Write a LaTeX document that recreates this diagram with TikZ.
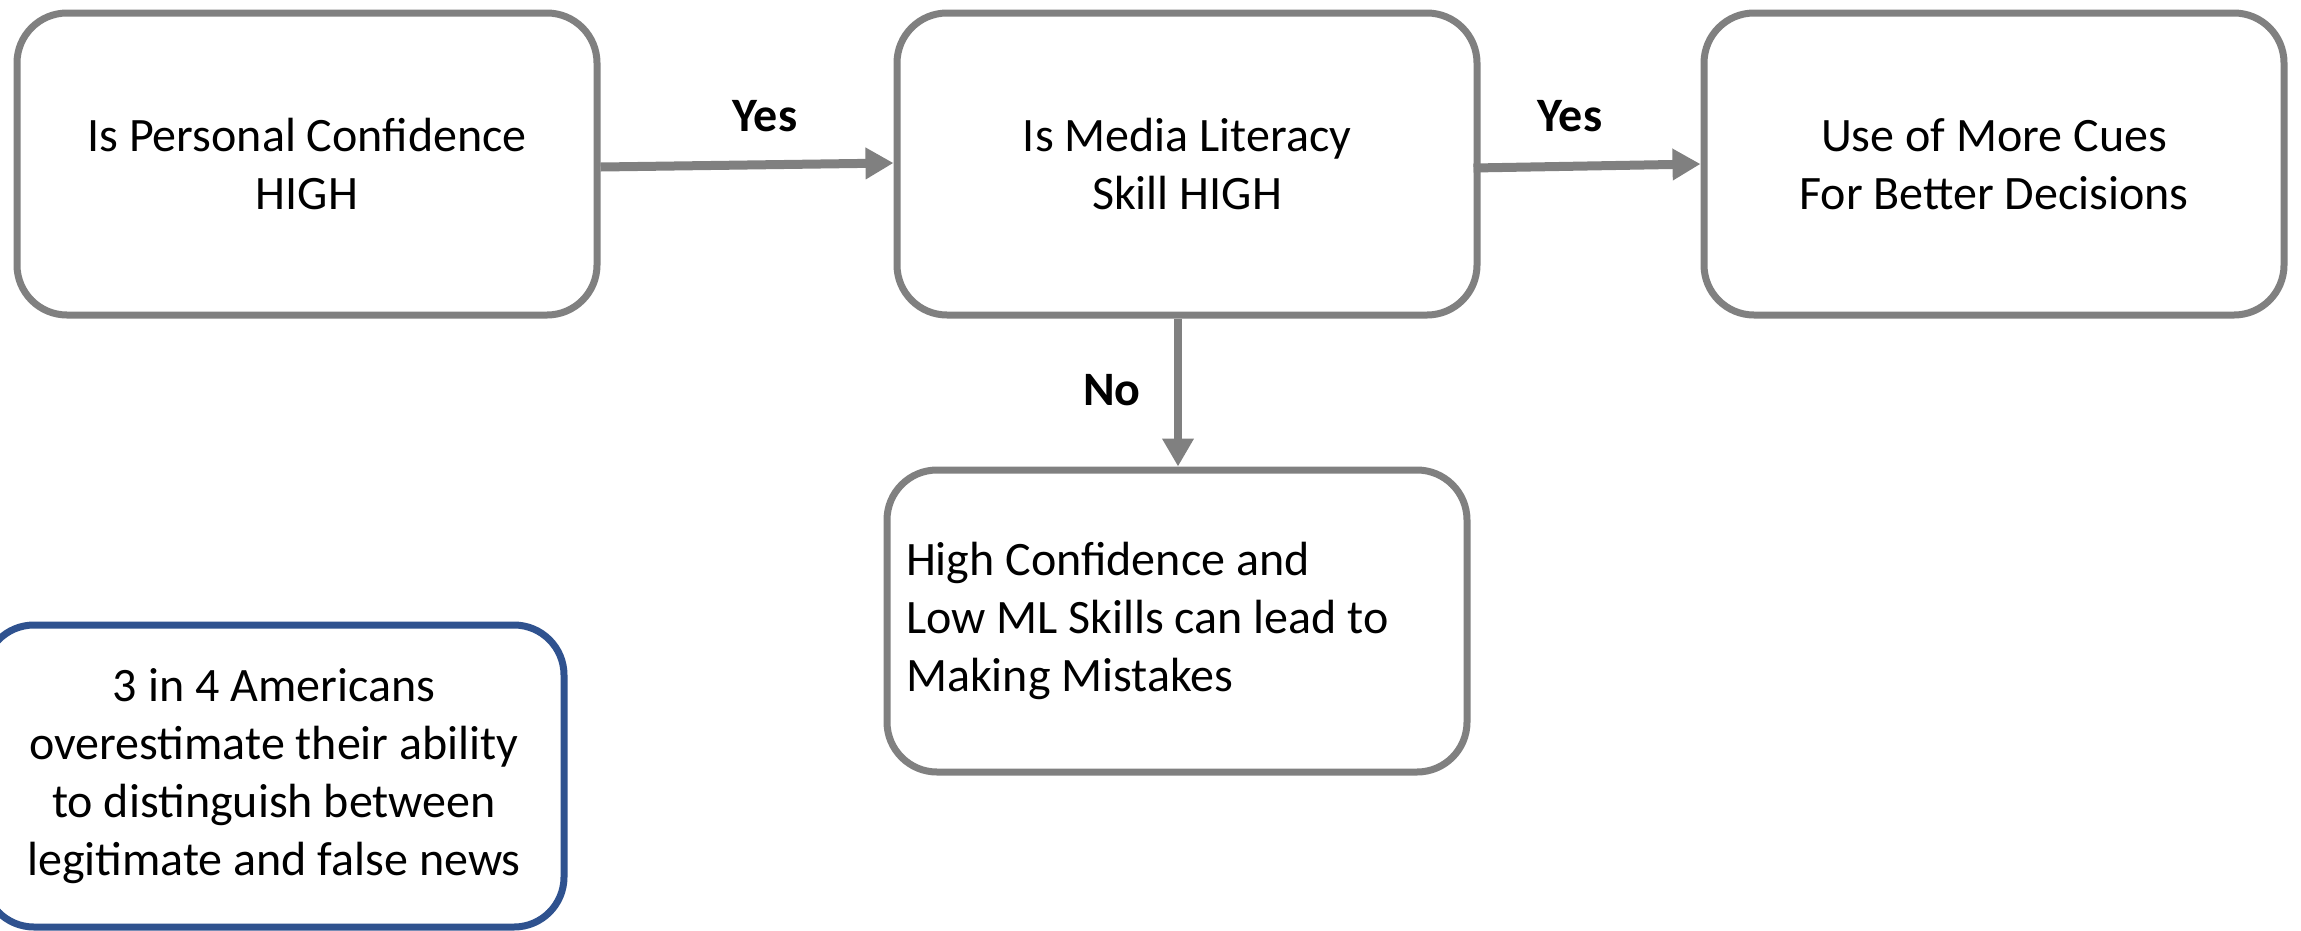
\documentclass[tikz,border=0pt]{standalone}
\usepackage{fontspec}
\setmainfont{Carlito}
\usetikzlibrary{arrows.meta}
\definecolor{boxgray}{RGB}{128,128,128}
\definecolor{boxblue}{RGB}{47,82,143}
\begin{document}
\begin{tikzpicture}[x=1pt,y=-1pt,
  every node/.style={font=\fontsize{48}{58}\selectfont},
  flowbox/.style={draw=boxgray,line width=7pt,rounded corners=50pt,fill=white,
    minimum width=580pt,minimum height=302pt,align=center,inner sep=0pt},
  notebox/.style={flowbox,draw=boxblue},
  leftbox/.style={flowbox,align=flush left,text width=542pt,inner xsep=19pt},
  flowarrow/.style={draw=boxgray,line width=9pt,-{Triangle[length=28pt,width=30pt]}},
  lbl/.style={font=\fontsize{48}{58}\selectfont\bfseries,inner sep=0pt}
]
\useasboundingbox (0,0) rectangle (2301,930);
\fill[white] (0,0) rectangle (2301,930);
\node[flowbox] (b1) at (307,164) {Is Personal Confidence\\HIGH};
\node[flowbox] (b2) at (1187,164) {Is Media Literacy\\Skill HIGH};
\node[flowbox] (b3) at (1994,164) {Use of More Cues\\For Better Decisions};
\node[leftbox] (b4) at (1177,621) {High Confidence and\\Low ML Skills can lead to\\Making Mistakes};
\node[notebox] (b5) at (274,776) {3 in 4 Americans\\overestimate their ability\\to distinguish between\\legitimate and false news};
\draw[flowarrow] ([yshift=-3pt]b1.east) -- ([yshift=1pt]b2.west);
\draw[flowarrow] ([xshift=-7pt,yshift=-4pt]b2.east) -- ([yshift=0pt]b3.west);
\draw[flowarrow,line width=8pt] ([xshift=-9pt]b2.south) -- ([xshift=1pt]b4.north);
\node[lbl] (yes1) at (765,116) {Yes};
\node[lbl] (yes2) at (1570,116) {Yes};
\node[lbl] (no) at (1112,390) {No};
\end{tikzpicture}
\end{document}
